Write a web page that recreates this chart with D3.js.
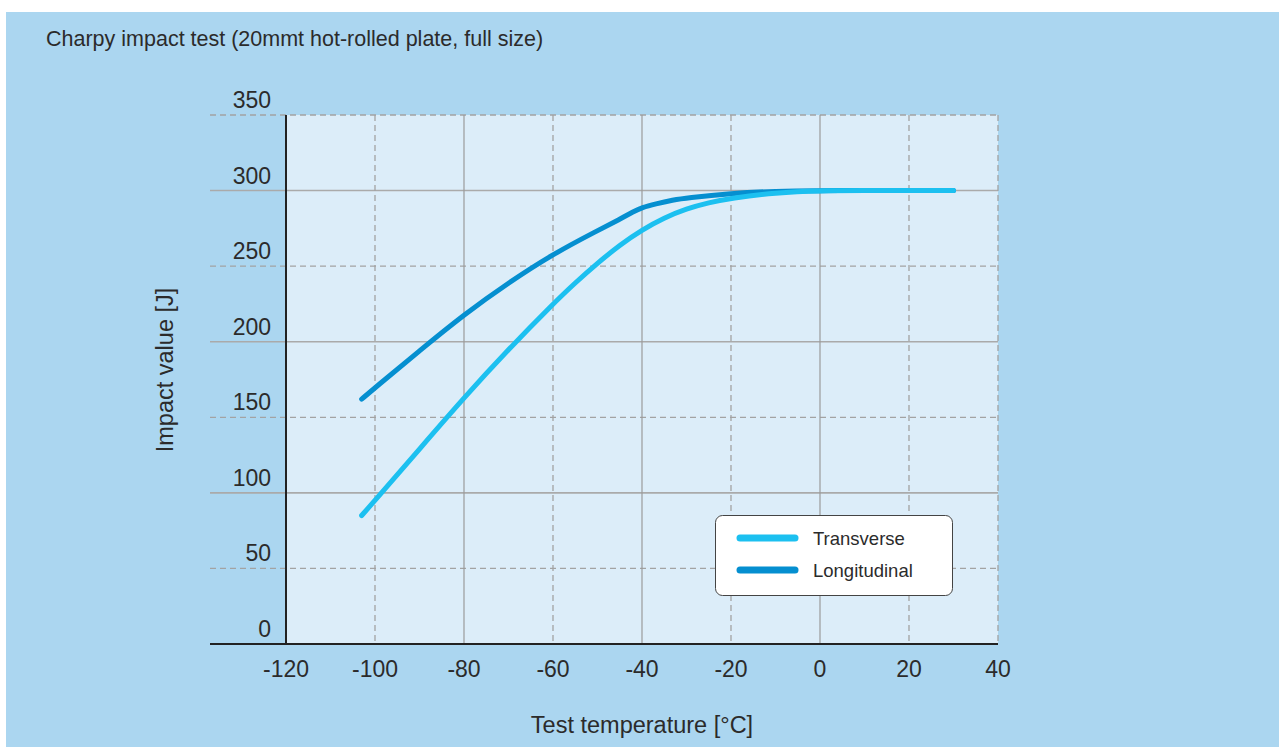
<!DOCTYPE html>
<html><head><meta charset="utf-8">
<script src="https://cdn.jsdelivr.net/npm/d3@7"></script>
<style>html,body{margin:0;padding:0;background:#fff}svg{display:block}text{font-family:"Liberation Sans",Arial,sans-serif;fill:#2b2b2b}</style>
</head><body>
<script>
const title = "Charpy impact test (20mmt hot-rolled plate, full size)";
const xTicks = [-120,-100,-80,-60,-40,-20,0,20,40];
const yTicks = [0,50,100,150,200,250,300,350];
const transverseT = [-103,-100,-90,-80,-70,-60,-55,-50,-45,-40,-35,-30,-25,-20,-10,0,10,20,30];
const transverseV = [85,95,129,163,195,225,239,252,264,274,282,288,292,295,298.6,300,300,300,300];
const longitudinalT = [-103,-100,-90,-80,-70,-60,-50,-45,-42,-40,-37,-33,-30,-20,-10,0,10,20,30];
const longitudinalV = [162,169.5,194,218,239,258,273.5,281,286,288.8,291.2,293.8,295.2,298.2,299.6,300,300,300,300];
const seriesNames = ["Transverse","Longitudinal"];
const seriesColors = ["#1cc0f0","#058fd0"];

const W=1279,H=747;
const svg=d3.select("body").append("svg").attr("width",W).attr("height",H);
svg.append("rect").attr("x",6).attr("y",12).attr("width",W-6).attr("height",H-12).attr("fill","#abd6f0");

const x=d3.scaleLinear().domain([-120,40]).range([286,998]);
const y=d3.scaleLinear().domain([0,350]).range([644,115]);

svg.append("rect").attr("x",x(-120)).attr("y",y(350)).attr("width",x(40)-x(-120)).attr("height",y(0)-y(350)).attr("fill","#dcedf9");

// horizontal grid
yTicks.filter(v=>v>0).forEach(v=>{
  const dashed = (v/50)%2===1;
  svg.append("line").attr("x1",210).attr("x2",x(40)).attr("y1",y(v)).attr("y2",y(v))
    .attr("stroke",dashed?"#a3a3a3":"#aaaaaa").attr("stroke-width",dashed?1.3:1.6)
    .attr("stroke-dasharray",dashed?"6,4":null);
});
// vertical grid
xTicks.filter(v=>v>-120).forEach(v=>{
  const dashed = v===40 || ((v+120)/20)%2===1;
  svg.append("line").attr("x1",x(v)).attr("x2",x(v)).attr("y1",y(350)).attr("y2",y(0))
    .attr("stroke",dashed?"#a3a3a3":"#9a9a9a").attr("stroke-width",dashed?1.3:1.2)
    .attr("stroke-dasharray",dashed?"6,4":null);
});
// axes lines
svg.append("line").attr("x1",x(-120)).attr("x2",x(-120)).attr("y1",y(350)).attr("y2",y(0)).attr("stroke","#222").attr("stroke-width",2);
svg.append("line").attr("x1",210).attr("x2",x(40)).attr("y1",y(0)).attr("y2",y(0)).attr("stroke","#222").attr("stroke-width",2);

// tick labels
svg.append("g").selectAll("text").data(yTicks).join("text")
  .attr("x",271).attr("y",d=>y(d)-7).attr("text-anchor","end").attr("font-size",23).text(d=>d);
svg.append("g").selectAll("text").data(xTicks).join("text")
  .attr("x",d=>x(d)).attr("y",677).attr("text-anchor","middle").attr("font-size",23).text(d=>d);

// titles
svg.append("text").attr("x",46).attr("y",46).attr("font-size",21.5).text(title);
svg.append("text").attr("x",642).attr("y",733).attr("text-anchor","middle").attr("font-size",23.5).text("Test temperature [°C]");
svg.append("text").attr("transform","translate(173,370) rotate(-90)").attr("text-anchor","middle").attr("font-size",23.5).text("Impact value [J]");

// lines
const line=d3.line().x(d=>x(d[0])).y(d=>y(d[1])).curve(d3.curveBasis);
const tData=transverseT.map((t,i)=>[t,transverseV[i]]);
const lData=longitudinalT.map((t,i)=>[t,longitudinalV[i]]);
svg.append("path").datum(lData).attr("d",line).attr("fill","none").attr("stroke",seriesColors[1]).attr("stroke-width",5).attr("stroke-linecap","round").attr("stroke-linejoin","round");
svg.append("path").datum(tData).attr("d",line).attr("fill","none").attr("stroke",seriesColors[0]).attr("stroke-width",5).attr("stroke-linecap","round").attr("stroke-linejoin","round");

// legend
const lg=svg.append("g");
lg.append("rect").attr("x",715.5).attr("y",515.5).attr("width",237).attr("height",80).attr("rx",7)
  .attr("fill","#fff").attr("stroke","#444").attr("stroke-width",1);
seriesNames.forEach((n,i)=>{
  const yy=538+i*32;
  lg.append("line").attr("x1",740).attr("x2",795).attr("y1",yy).attr("y2",yy).attr("stroke",seriesColors[i]).attr("stroke-width",7).attr("stroke-linecap","round");
  lg.append("text").attr("x",813).attr("y",yy+6.5).attr("font-size",18.5).text(n);
});
</script>
</body></html>
